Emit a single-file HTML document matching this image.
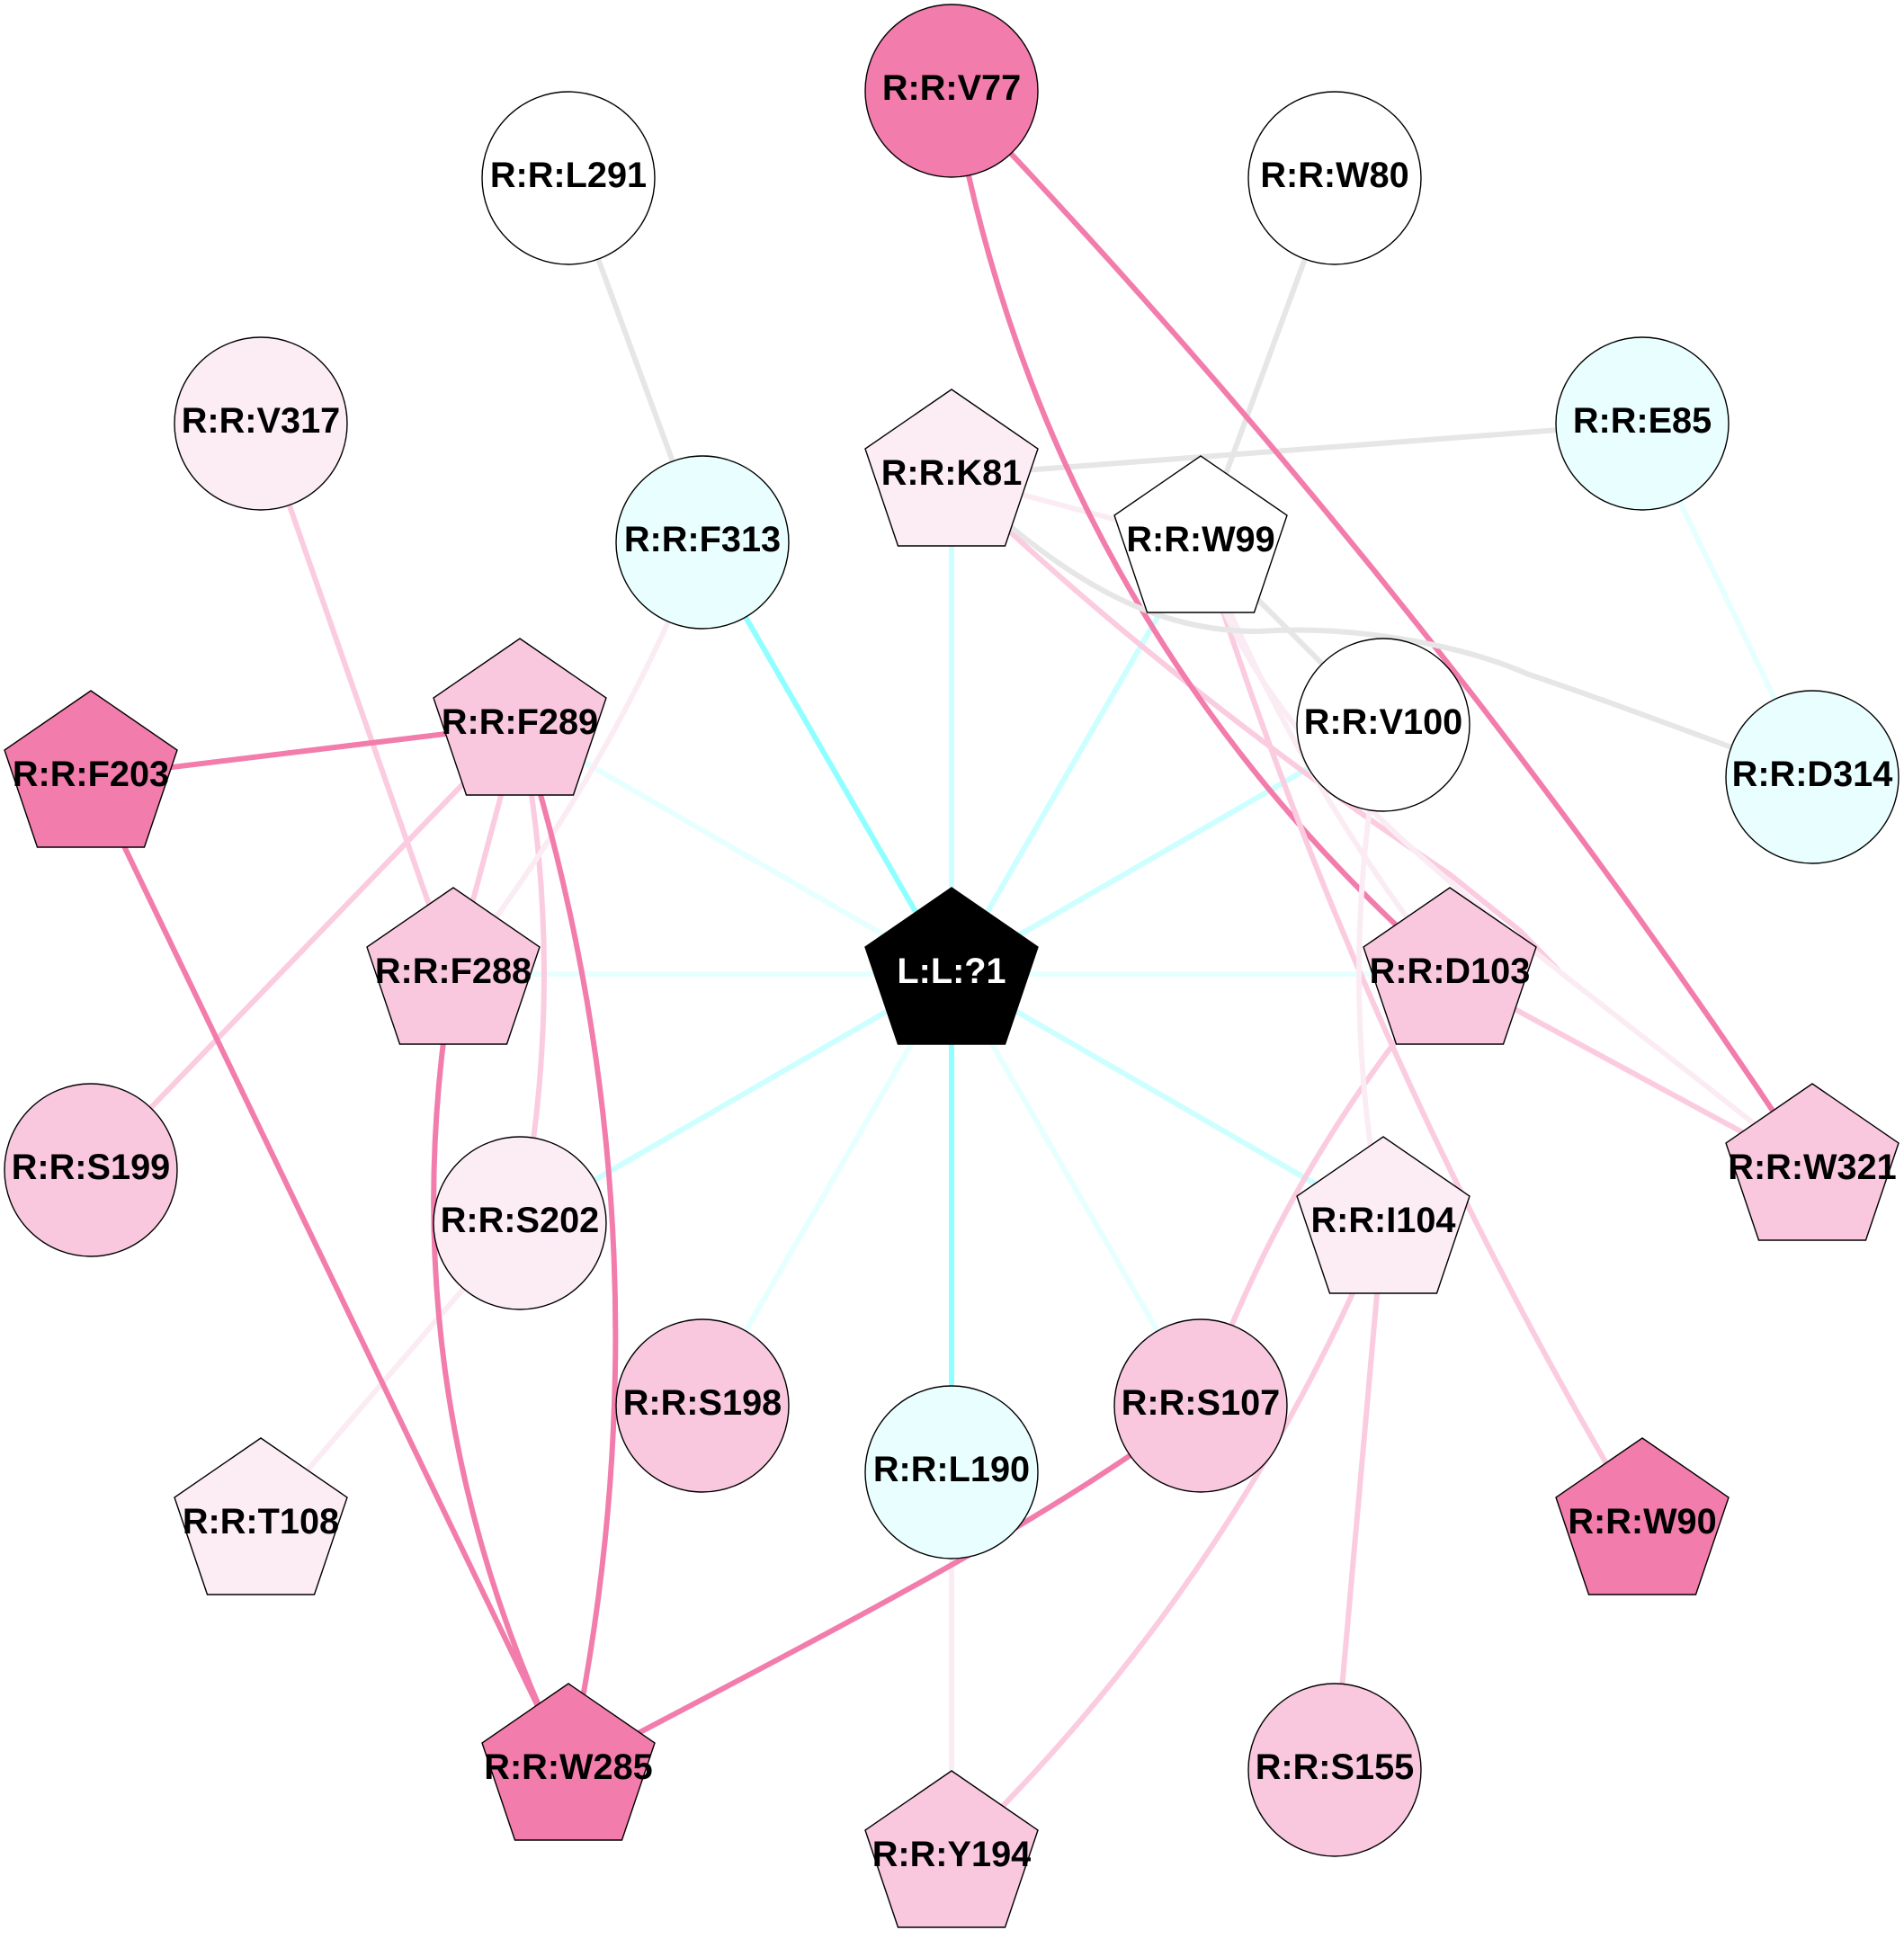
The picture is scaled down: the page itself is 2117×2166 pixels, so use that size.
<!DOCTYPE html>
<html><head><meta charset="utf-8"><style>
html,body{margin:0;padding:0;background:#fff}
svg{display:block}
text{font-family:"Liberation Sans",sans-serif;font-weight:bold;font-size:39.7px;text-anchor:middle;fill:#000}
.n{stroke:#000;stroke-width:1.4}
.e path{fill:none;stroke-width:6}
.g{stroke:#e6e6e6}.d{stroke:#f27cab}.l{stroke:#fbcbe0}.p{stroke:#fbecf4}.c0{stroke:#e6ffff}.c1{stroke:#ccffff}.c2{stroke:#8fffff}
.fd{fill:#f27cab}.fl{fill:#f9c8de}.fp{fill:#fcedf5}.fc{fill:#e9ffff}.fw{fill:#fff}
</style></head><body>
<svg width="2117" height="2166" viewBox="0 0 2117 2166" xmlns="http://www.w3.org/2000/svg">
<defs>
<circle id="c" r="96"/>
<polygon id="q" points="0,-96 96,-30 59.5,78 -59.5,78 -96,-30"/>
</defs>
<rect width="2117" height="2166" fill="#fff"/>
<g class="e">
<path class="c1" d="M1058,1083L1058,529"/>
<path class="c1" d="M1058,1083L1335,603"/>
<path class="c1" d="M1058,1083L1538,806"/>
<path class="c0" d="M1058,1083L1612,1083"/>
<path class="c1" d="M1058,1083L1538,1360"/>
<path class="c0" d="M1058,1083L1335,1563"/>
<path class="c2" d="M1058,1083L1058,1637"/>
<path class="c0" d="M1058,1083L781,1563"/>
<path class="c1" d="M1058,1083L578,1360"/>
<path class="c0" d="M1058,1083L504,1083"/>
<path class="c0" d="M1058,1083L578,806"/>
<path class="c2" d="M1058,1083L781,603"/>
<path class="c0" d="M1826,471L2015,864"/>
<path class="g" d="M632,198L781,603"/>
<path class="g" d="M1484,198L1335,603"/>
<path class="g" d="M1058,529L1826,471"/>
<path class="g" d="M1335,603L1538,806"/>
<path class="l" d="M290,471L504,1083"/>
<path class="l" d="M578,806L101,1301"/>
<path class="l" d="M578,806L504,1083"/>
<path class="l" d="M578,806Q632,1083 578,1360"/>
<path class="p" d="M781,603Q677,863 504,1083"/>
<path class="p" d="M578,1360L290,1695"/>
<path class="p" d="M1058,1637L1058,2065"/>
<path class="p" d="M1058,529L1335,603"/>
<path class="l" d="M1058,529C1200,670 1400,830 1613,973L1690,1035L1733,1079"/>
<path class="l" d="M1612,1083L2015,1301"/>
<path class="l" d="M1612,1083Q1428,1297 1335,1563"/>
<path class="l" d="M1538,1360L1484,1968"/>
<path class="l" d="M1538,1360Q1372,1763 1058,2065"/>
<path class="d" d="M101,864L578,806"/>
<path class="d" d="M101,864L632,1968"/>
<path class="d" d="M578,806Q759,1380 632,1968"/>
<path class="d" d="M504,1083Q425,1546 632,1968"/>
<path class="d" d="M1335,1563C1150,1700 950,1800 632,1968"/>
<path class="d" d="M1058,101Q1161,690 1612,1083"/>
<path class="d" d="M1058,101Q1591,657 2015,1301"/>
<path class="l" d="M1335,603Q1516,1178 1826,1695"/>
<path class="p" d="M1335,603Q1438,863 1612,1083"/>
<path class="p" d="M1335,603C1400,860 1680,1030 2015,1301"/>
<path class="p" d="M1538,806Q1484,1083 1538,1360"/>
<path class="g" d="M1058,529C1160,620 1260,703 1400,702C1500,695 1620,715 1700,750C1790,780 1900,822 2015,864"/>
</g>
<g class="n">
<use href="#q" x="1058" y="1083" fill="#000"/>
<use href="#c" x="1058" y="101" class="fd"/>
<use href="#c" x="1484" y="198" class="fw"/>
<use href="#c" x="632" y="198" class="fw"/>
<use href="#c" x="1826" y="471" class="fc"/>
<use href="#c" x="290" y="471" class="fp"/>
<use href="#c" x="2015" y="864" class="fc"/>
<use href="#q" x="101" y="864" class="fd"/>
<use href="#q" x="2015" y="1301" class="fl"/>
<use href="#c" x="101" y="1301" class="fl"/>
<use href="#q" x="1826" y="1695" class="fd"/>
<use href="#q" x="290" y="1695" class="fp"/>
<use href="#c" x="1484" y="1968" class="fl"/>
<use href="#q" x="632" y="1968" class="fd"/>
<use href="#q" x="1058" y="2065" class="fl"/>
<use href="#q" x="1058" y="529" class="fp"/>
<use href="#q" x="1335" y="603" class="fw"/>
<use href="#c" x="1538" y="806" class="fw"/>
<use href="#q" x="1612" y="1083" class="fl"/>
<use href="#q" x="1538" y="1360" class="fp"/>
<use href="#c" x="1335" y="1563" class="fl"/>
<use href="#c" x="1058" y="1637" class="fc"/>
<use href="#c" x="781" y="1563" class="fl"/>
<use href="#c" x="578" y="1360" class="fp"/>
<use href="#q" x="504" y="1083" class="fl"/>
<use href="#q" x="578" y="806" class="fl"/>
<use href="#c" x="781" y="603" class="fc"/>
</g>
<g>
<text x="1058" y="1093" style="fill:#fff">L:L:?1</text>
<text x="1058" y="111">R:R:V77</text>
<text x="1484" y="208">R:R:W80</text>
<text x="632" y="208">R:R:L291</text>
<text x="1826" y="481">R:R:E85</text>
<text x="290" y="481">R:R:V317</text>
<text x="2015" y="874">R:R:D314</text>
<text x="101" y="874">R:R:F203</text>
<text x="2015" y="1311">R:R:W321</text>
<text x="101" y="1311">R:R:S199</text>
<text x="1826" y="1705">R:R:W90</text>
<text x="290" y="1705">R:R:T108</text>
<text x="1484" y="1978">R:R:S155</text>
<text x="632" y="1978">R:R:W285</text>
<text x="1058" y="2075">R:R:Y194</text>
<text x="1058" y="539">R:R:K81</text>
<text x="1335" y="613">R:R:W99</text>
<text x="1538" y="816">R:R:V100</text>
<text x="1612" y="1093">R:R:D103</text>
<text x="1538" y="1370">R:R:I104</text>
<text x="1335" y="1573">R:R:S107</text>
<text x="1058" y="1647">R:R:L190</text>
<text x="781" y="1573">R:R:S198</text>
<text x="578" y="1370">R:R:S202</text>
<text x="504" y="1093">R:R:F288</text>
<text x="578" y="816">R:R:F289</text>
<text x="781" y="613">R:R:F313</text>
</g>
</svg>
</body></html>
